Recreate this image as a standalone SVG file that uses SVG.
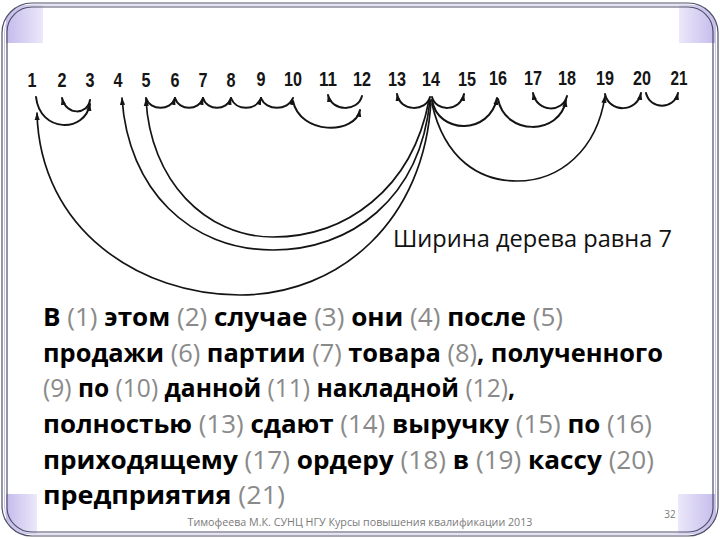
<svg xmlns="http://www.w3.org/2000/svg" width="720" height="540" viewBox="0 0 720 540">
<style>
.num{font-family:"Liberation Sans",Arial,sans-serif;font-weight:bold;font-size:20px;fill:#151515;text-anchor:middle}
.arc{fill:none;stroke:#141414;stroke-width:2;stroke-linecap:round}
.big{stroke-width:1.7}
.para{font-family:"Open Sans","Noto Sans",sans-serif;font-size:25px}
.w{font-weight:bold;fill:#000}
.n{font-weight:normal;fill:#8a8a8a}
.frame{fill:none;stroke:#4e5068;stroke-width:1.2}
</style>
<defs>
<marker id="ah" markerUnits="userSpaceOnUse" markerWidth="9" markerHeight="8" refX="7" refY="4" orient="auto">
<path d="M0,1.4 L7.5,4 L0,6.6 z" fill="#141414"/>
</marker>
<linearGradient id="gl" x1="0" y1="0" x2="1" y2="0">
<stop offset="0" stop-color="#c4bbec"/><stop offset="1" stop-color="#ece8fa"/>
</linearGradient>
<linearGradient id="gr" x1="1" y1="0" x2="0" y2="0">
<stop offset="0" stop-color="#c4bbec"/><stop offset="1" stop-color="#ece8fa"/>
</linearGradient>
<clipPath id="fc"><rect x="2" y="3" width="716" height="533" rx="30" ry="30"/></clipPath>
</defs>
<rect width="720" height="540" fill="#ffffff"/>
<g id="frame">
<g clip-path="url(#fc)">
<rect x="6" y="5" width="37" height="38" fill="url(#gl)"/>
<rect x="679" y="5" width="37" height="38" fill="url(#gr)"/>
<rect x="6" y="494" width="31" height="40" fill="url(#gl)"/>
<rect x="678" y="494" width="38" height="40" fill="url(#gr)"/>
</g>
<rect class="frame" x="2" y="3" width="716" height="533" rx="30" ry="30"/>
<rect x="4.5" y="5" width="711" height="529" rx="28" ry="28" fill="none" stroke="#c9c4e6" stroke-width="1"/>
<rect class="frame" x="7" y="7" width="706" height="525" rx="25" ry="25"/>
</g>
<g id="numbers">
<text class="num" x="32" y="87" textLength="9" lengthAdjust="spacingAndGlyphs">1</text>
<text class="num" x="62" y="87" textLength="9" lengthAdjust="spacingAndGlyphs">2</text>
<text class="num" x="90" y="87" textLength="9" lengthAdjust="spacingAndGlyphs">3</text>
<text class="num" x="118" y="87" textLength="9" lengthAdjust="spacingAndGlyphs">4</text>
<text class="num" x="146" y="87" textLength="9" lengthAdjust="spacingAndGlyphs">5</text>
<text class="num" x="175" y="87" textLength="9" lengthAdjust="spacingAndGlyphs">6</text>
<text class="num" x="203" y="87" textLength="9" lengthAdjust="spacingAndGlyphs">7</text>
<text class="num" x="231" y="87" textLength="9" lengthAdjust="spacingAndGlyphs">8</text>
<text class="num" x="261" y="86" textLength="9" lengthAdjust="spacingAndGlyphs">9</text>
<text class="num" x="293" y="86" textLength="18" lengthAdjust="spacingAndGlyphs">10</text>
<text class="num" x="328" y="86" textLength="18" lengthAdjust="spacingAndGlyphs">11</text>
<text class="num" x="362" y="86" textLength="18" lengthAdjust="spacingAndGlyphs">12</text>
<text class="num" x="397" y="86" textLength="18" lengthAdjust="spacingAndGlyphs">13</text>
<text class="num" x="431" y="86" textLength="18" lengthAdjust="spacingAndGlyphs">14</text>
<text class="num" x="467" y="86" textLength="18" lengthAdjust="spacingAndGlyphs">15</text>
<text class="num" x="498" y="85" textLength="18" lengthAdjust="spacingAndGlyphs">16</text>
<text class="num" x="533" y="85" textLength="18" lengthAdjust="spacingAndGlyphs">17</text>
<text class="num" x="567" y="85" textLength="18" lengthAdjust="spacingAndGlyphs">18</text>
<text class="num" x="605" y="85" textLength="18" lengthAdjust="spacingAndGlyphs">19</text>
<text class="num" x="642" y="85" textLength="18" lengthAdjust="spacingAndGlyphs">20</text>
<text class="num" x="679" y="85" textLength="17" lengthAdjust="spacingAndGlyphs">21</text>
</g>
<g id="connectors">
<path class="arc" d="M36,97 C40,133 85,133 90,104" marker-end="url(#ah)"/>
<path class="arc" d="M90,100 C88,115 66,116 62,98" marker-end="url(#ah)"/>
<path class="arc" d="M146,98 C150,111 171,111 175,98" marker-end="url(#ah)"/>
<path class="arc" d="M175,98 C179,111 199,111 203,98" marker-end="url(#ah)"/>
<path class="arc" d="M203,98 C207,111 227,111 231,98" marker-end="url(#ah)"/>
<path class="arc" d="M231,98 C236,111 256,111 261,98" marker-end="url(#ah)"/>
<path class="arc" d="M261,98 C266,111 288,111 293,98" marker-end="url(#ah)"/>
<path class="arc" d="M293,101 C300,135 355,135 360,110" marker-end="url(#ah)"/>
<path class="arc" d="M362,96 C358,112 332,112 328,95" marker-end="url(#ah)"/>
<path class="arc" d="M430,97 C426,112 400,112 397,94" marker-end="url(#ah)"/>
<path class="arc" d="M432,97 C436,112 460,112 464,94" marker-end="url(#ah)"/>
<path class="arc" d="M432,100 C438,135 490,135 497,98" marker-end="url(#ah)"/>
<path class="arc" d="M498,99 C505,136 560,136 566,100" marker-end="url(#ah)"/>
<path class="arc" d="M567,96 C563,113 537,113 533,93" marker-end="url(#ah)"/>
<path class="arc big" d="M432,104 C445,160 480,181 517,181 C560,181 597,150 605,96" marker-end="url(#ah)"/>
<path class="arc" d="M605,94 C609,113 637,113 641,93" marker-end="url(#ah)"/>
<path class="arc" d="M646,93 C650,110 674,110 678,93" marker-end="url(#ah)"/>
<path class="arc big" d="M431,100 C425,220 340,295 240,295 C140,295 40,230 37,113" marker-end="url(#ah)"/>
<path class="arc big" d="M430,100 C420,200 350,250 273,250 C190,250 128,190 122,98" marker-end="url(#ah)"/>
<path class="arc big" d="M429,100 C412,190 345,237 273,237 C205,237 150,180 146,99" marker-end="url(#ah)"/>
</g>
<text id="caption" x="393" y="247" textLength="279" lengthAdjust="spacingAndGlyphs" font-family="Open Sans, Noto Sans, sans-serif" font-size="23" fill="#111">Ширина дерева равна 7</text>
<g id="sentence" class="para">
<text x="43" y="326" textLength="520" lengthAdjust="spacingAndGlyphs"><tspan class="w">В </tspan><tspan class="n">(1) </tspan><tspan class="w">этом </tspan><tspan class="n">(2) </tspan><tspan class="w">случае </tspan><tspan class="n">(3) </tspan><tspan class="w">они </tspan><tspan class="n">(4) </tspan><tspan class="w">после </tspan><tspan class="n">(5)</tspan></text>
<text x="43" y="362" textLength="620" lengthAdjust="spacingAndGlyphs"><tspan class="w">продажи </tspan><tspan class="n">(6) </tspan><tspan class="w">партии </tspan><tspan class="n">(7) </tspan><tspan class="w">товара </tspan><tspan class="n">(8)</tspan><tspan class="w">, полученного</tspan></text>
<text x="43" y="397" textLength="472" lengthAdjust="spacingAndGlyphs"><tspan class="n">(9) </tspan><tspan class="w">по </tspan><tspan class="n">(10) </tspan><tspan class="w">данной </tspan><tspan class="n">(11) </tspan><tspan class="w">накладной </tspan><tspan class="n">(12)</tspan><tspan class="w">,</tspan></text>
<text x="43" y="433" textLength="609" lengthAdjust="spacingAndGlyphs"><tspan class="w">полностью </tspan><tspan class="n">(13) </tspan><tspan class="w">сдают </tspan><tspan class="n">(14) </tspan><tspan class="w">выручку </tspan><tspan class="n">(15) </tspan><tspan class="w">по </tspan><tspan class="n">(16)</tspan></text>
<text x="43" y="469" textLength="611" lengthAdjust="spacingAndGlyphs"><tspan class="w">приходящему </tspan><tspan class="n">(17) </tspan><tspan class="w">ордеру </tspan><tspan class="n">(18) </tspan><tspan class="w">в </tspan><tspan class="n">(19) </tspan><tspan class="w">кассу </tspan><tspan class="n">(20)</tspan></text>
<text x="43" y="504" textLength="242" lengthAdjust="spacingAndGlyphs"><tspan class="w">предприятия </tspan><tspan class="n">(21)</tspan></text>
</g>
<g id="footer" font-family="Open Sans, sans-serif" fill="#7a7a7a" font-size="10">
<text x="360" y="526" text-anchor="middle" textLength="345" lengthAdjust="spacingAndGlyphs">Тимофеева М.К. СУНЦ НГУ Курсы повышения квалификации 2013</text>
<text x="670" y="518" text-anchor="middle">32</text>
</g>
</svg>
